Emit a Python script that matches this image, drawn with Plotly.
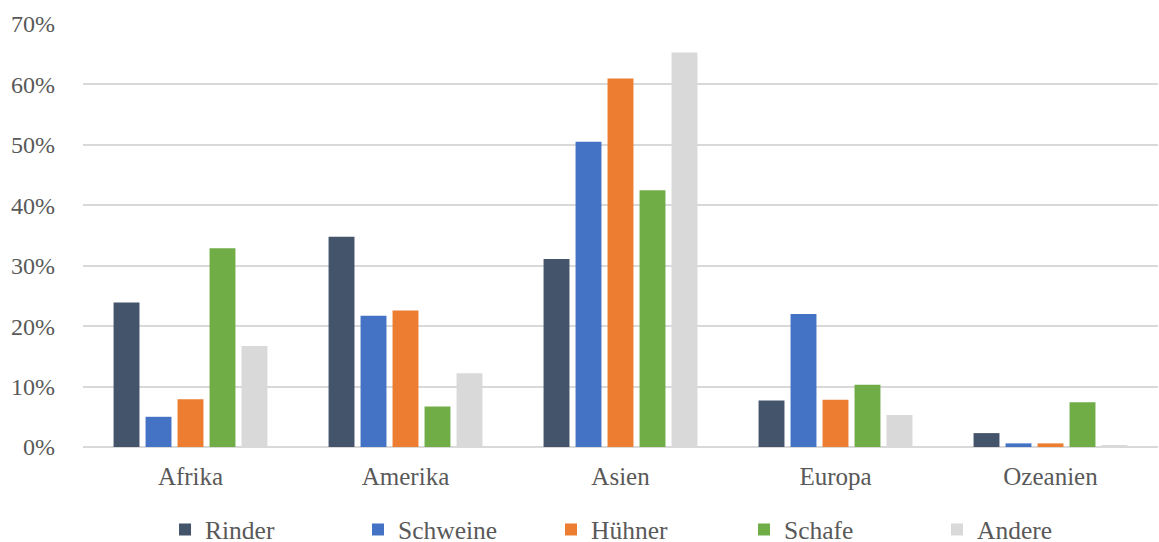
import plotly.graph_objects as go

regions = ["Afrika", "Amerika", "Asien", "Europa", "Ozeanien"]
series_names = ["Rinder", "Schweine", "Hühner", "Schafe", "Andere"]
rinder = [0.239, 0.348, 0.311, 0.077, 0.023]
schweine = [0.050, 0.217, 0.505, 0.220, 0.006]
huehner = [0.079, 0.226, 0.610, 0.078, 0.006]
schafe = [0.329, 0.067, 0.425, 0.103, 0.074]
andere = [0.167, 0.122, 0.653, 0.053, 0.002]
colors = ["#44546A", "#4472C4", "#ED7D31", "#70AD47", "#D9D9D9"]
y_ticks = [0, 0.1, 0.2, 0.3, 0.4, 0.5, 0.6, 0.7]

fig = go.Figure()
for name, vals, col in zip(series_names, [rinder, schweine, huehner, schafe, andere], colors):
    fig.add_trace(go.Bar(x=regions, y=vals, name=name, marker_color=col,
                         marker_line_width=0))

font = "Liberation Serif"
fig.update_layout(
    width=1159, height=542,
    margin=dict(l=83, r=1, t=24, b=95, autoexpand=False),
    paper_bgcolor="white", plot_bgcolor="white",
    barmode="group", bargap=0.256, bargroupgap=0.19,
    font=dict(family=font, size=24, color="#595959"),
    showlegend=True,
    legend=dict(orientation="h", x=0.0763, xanchor="left", y=-0.196, yanchor="middle",
                entrywidth=148, entrywidthmode="pixels",
                font=dict(family=font, size=25.5, color="#595959"),
                itemsizing="constant", traceorder="normal"),
    yaxis=dict(range=[0, 0.7], tickvals=y_ticks, tickformat=".0%",
               showgrid=True, gridcolor="#D9D9D9", gridwidth=1.5,
               zeroline=True, zerolinecolor="#D9D9D9", zerolinewidth=1.5,
               showline=False, ticks="", ticklabelstandoff=27,
               tickfont=dict(family=font, size=24, color="#595959")),
    xaxis=dict(showgrid=False, showline=False, ticks="", ticklabelstandoff=12,
               tickfont=dict(family=font, size=25, color="#595959")),
)

fig.write_html("out.html")
